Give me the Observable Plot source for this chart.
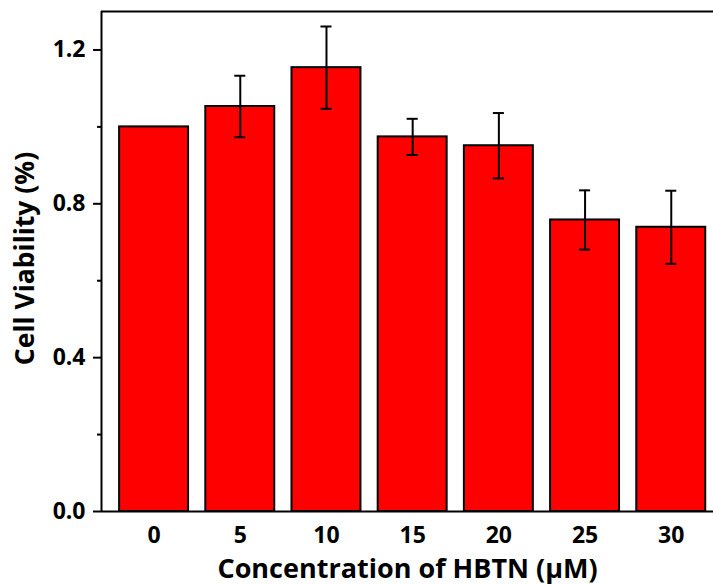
<!DOCTYPE html>
<html>
<head>
<meta charset="utf-8">
<script src="https://cdn.jsdelivr.net/npm/d3@7"></script>
<script src="https://cdn.jsdelivr.net/npm/@observablehq/plot@0.6"></script>
<style>
  html, body { margin: 0; padding: 0; background: #fff; overflow: hidden; }
  #chart svg { display: block; font-family: "Open Sans", sans-serif; }
</style>
</head>
<body>
<div id="chart"></div>
<script>
// Data
const concentrations = [0, 5, 10, 15, 20, 25, 30];      // µM
const viability      = [1.00, 1.053, 1.154, 0.974, 0.951, 0.758, 0.739];
const errors         = [0, 0.080, 0.107, 0.047, 0.085, 0.077, 0.095];
const yMajorTicks    = [0, 0.4, 0.8, 1.2];
const yMinorTicks    = [0.2, 0.6, 1.0];
const xTitle = "Concentration of HBTN (\u03BCM)";
const yTitle = "Cell Viability (%)";

const data = concentrations.map((c, i) => ({c, v: viability[i], e: errors[i]}));
const withErr = data.filter(d => d.e > 0);

const barHalf = 2;     // half bar width in x units
const capHalf = 0.32;  // half cap width in x units
const xDomain = [-3.05, 32.45];
const yDomain = [0, 1.3];
const font = {fontFamily: "Open Sans", fontWeight: "bold"};

const chart = Plot.plot({
  width: 713,
  height: 585,
  marginLeft: 101,
  marginRight: 0,
  marginTop: 11,
  marginBottom: 74,
  x: {type: "linear", domain: xDomain, axis: null},
  y: {domain: yDomain, axis: null},
  marks: [
    Plot.rectY(data, {x1: d => d.c - barHalf, x2: d => d.c + barHalf, y1: 0, y2: "v",
      fill: "#ff0000", stroke: "#000", strokeWidth: 2}),
    Plot.ruleX(withErr, {x: "c", y1: d => d.v - d.e, y2: d => d.v + d.e, stroke: "#000", strokeWidth: 2}),
    Plot.ruleY(withErr, {y: d => d.v + d.e, x1: d => d.c - capHalf, x2: d => d.c + capHalf, stroke: "#000", strokeWidth: 2}),
    Plot.ruleY(withErr, {y: d => d.v - d.e, x1: d => d.c - capHalf, x2: d => d.c + capHalf, stroke: "#000", strokeWidth: 2}),
    // frame: left axis line, bottom axis line, top line
    Plot.ruleX([xDomain[0]], {stroke: "#000", strokeWidth: 2}),
    Plot.ruleY([yDomain[0]], {stroke: "#000", strokeWidth: 2}),
    Plot.ruleY([yDomain[1]], {stroke: "#000", strokeWidth: 2}),
    // y ticks
    Plot.axisY(yMajorTicks, {tickSize: 8, tickFormat: () => "", strokeWidth: 2, label: null}),
    Plot.axisY(yMinorTicks, {tickSize: 4, tickFormat: () => "", strokeWidth: 2, label: null}),
    Plot.text(yMajorTicks, {y: d => d, frameAnchor: "left", dx: -16, textAnchor: "end",
      text: d => d.toFixed(1), fontSize: 23, fill: "#000", ...font}),
    // x tick labels
    Plot.text(concentrations, {x: d => d, frameAnchor: "bottom", dy: 24, lineAnchor: "middle",
      text: d => String(d), fontSize: 23, fill: "#000", ...font}),
    // titles
    Plot.text([xTitle], {frameAnchor: "bottom", dy: 58, textAnchor: "middle", lineAnchor: "middle", fontSize: 27, fill: "#000", ...font}),
    Plot.text([yTitle], {frameAnchor: "left", dx: -76, dy: -3, rotate: -90, textAnchor: "middle", lineAnchor: "middle", fontSize: 26.5, fill: "#000", ...font})
  ]
});
document.getElementById("chart").appendChild(chart);
</script>
</body>
</html>
